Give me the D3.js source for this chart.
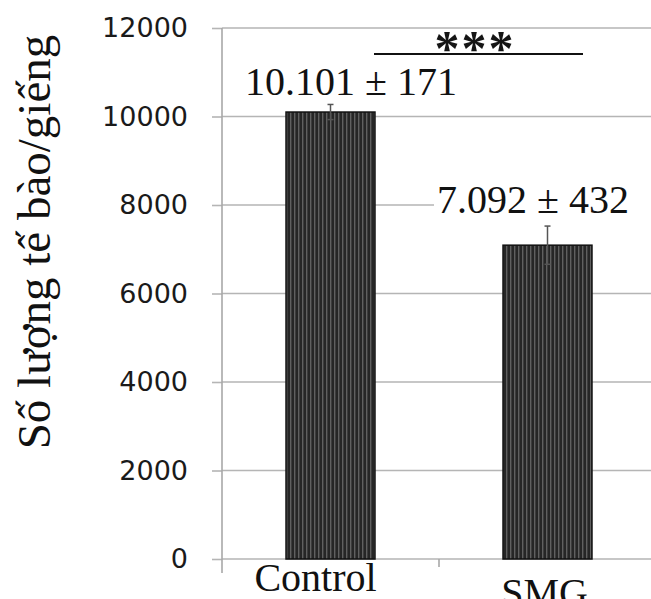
<!DOCTYPE html>
<html>
<head>
<meta charset="utf-8">
<script src="https://cdn.jsdelivr.net/npm/d3@7"></script>
<style>
  html, body { margin: 0; padding: 0; background: #fff; }
  svg { display: block; }
</style>
</head>
<body>
<svg id="chart" width="651" height="599"></svg>
<script>
// ---- data ----
const categories = ["Control", "SMG"];
const means = [10101, 7092];
const errors = [171, 432];
const valueLabels = ["10.101 ± 171", "7.092 ± 432"];
const yTicks = [0, 2000, 4000, 6000, 8000, 10000, 12000];
const yTitle = "Số lượng tế bào/giếng";
const sigLabel = "***";

const SERIF = "'Liberation Serif', 'Times New Roman', serif";
const SANS = "'DejaVu Sans', sans-serif";

const svg = d3.select("#chart");
const W = 651;

const y = d3.scaleLinear().domain([0, 12000]).range([559, 28]);
const x = d3.scaleBand().domain(categories).range([222, 656])
  .paddingInner(0.59).paddingOuter(0.295);

// pattern for bars
const defs = svg.append("defs");
const pat = defs.append("pattern").attr("id", "stripes")
  .attr("patternUnits", "userSpaceOnUse").attr("width", 4).attr("height", 4);
pat.append("rect").attr("width", 4).attr("height", 4).attr("fill", "#262626");
pat.append("rect").attr("x", 2).attr("width", 1.4).attr("height", 4).attr("fill", "#606060");

// gridlines
svg.append("g").selectAll("line").data(yTicks).join("line")
  .attr("x1", 222).attr("x2", W)
  .attr("y1", d => y(d)).attr("y2", d => y(d))
  .attr("stroke", "#b5b5b5").attr("stroke-width", 1.6);

// y axis
const yAxis = d3.axisLeft(y).tickValues(yTicks).tickSize(10).tickFormat(d3.format("d"));
const gy = svg.append("g").attr("transform", "translate(222,0)").call(yAxis);
gy.select(".domain").remove();
gy.selectAll(".tick line").attr("stroke", "#b5b5b5").attr("stroke-width", 1.6);
gy.selectAll(".tick text")
  .attr("x", -34)
  .attr("font-size", 27)
  .attr("fill", "#1a1a1a")
  .style("font-family", SANS);

// vertical axis line
svg.append("line").attr("x1", 222).attr("x2", 222)
  .attr("y1", y(12000)).attr("y2", y(0) + 14)
  .attr("stroke", "#a8a8a8").attr("stroke-width", 1.6);

// category boundary tick
const bounds = [x.range()[0] + x.step()];
svg.append("g").selectAll("line").data(bounds).join("line")
  .attr("x1", d => d).attr("x2", d => d)
  .attr("y1", y(0)).attr("y2", y(0) + 8)
  .attr("stroke", "#a8a8a8").attr("stroke-width", 1.6);

// bars
svg.append("g").selectAll("rect").data(categories).join("rect")
  .attr("x", d => x(d)).attr("width", x.bandwidth())
  .attr("y", (d, i) => y(means[i]))
  .attr("height", (d, i) => y(0) - y(means[i]))
  .attr("fill", "url(#stripes)")
  .attr("stroke", "#111").attr("stroke-width", 1.5);

// error bars
const eb = svg.append("g").selectAll("g").data(categories).join("g");
eb.append("line")
  .attr("x1", d => x(d) + x.bandwidth() / 2).attr("x2", d => x(d) + x.bandwidth() / 2)
  .attr("y1", (d, i) => y(means[i] + errors[i])).attr("y2", (d, i) => y(means[i] - errors[i]))
  .attr("stroke", "#555").attr("stroke-width", 1.5);
eb.selectAll("line.cap").data((d, i) => [[d, means[i] + errors[i]], [d, means[i] - errors[i]]])
  .join("line").attr("class", "cap")
  .attr("x1", d => x(d[0]) + x.bandwidth() / 2 - 3).attr("x2", d => x(d[0]) + x.bandwidth() / 2 + 3)
  .attr("y1", d => y(d[1])).attr("y2", d => y(d[1]))
  .attr("stroke", "#555").attr("stroke-width", 1.5);

// category labels
const catOffsets = [[-15, 591], [-3, 606]];
svg.append("g").selectAll("text").data(categories).join("text")
  .attr("x", (d, i) => x(d) + x.bandwidth() / 2 + catOffsets[i][0])
  .attr("y", (d, i) => catOffsets[i][1])
  .attr("text-anchor", "middle")
  .attr("font-size", 40)
  .attr("fill", "#111")
  .style("font-family", SERIF)
  .text(d => d);

// value labels
const vlPos = [[245, 95], [437, 213]];
const vl = svg.append("g").selectAll("g").data(valueLabels).join("g")
  .attr("transform", (d, i) => `translate(${vlPos[i][0]},${vlPos[i][1]})`);
vl.filter((d, i) => i === 1).append("rect")
  .attr("x", -3).attr("y", -30).attr("width", W - vlPos[1][0] + 3).attr("height", 40)
  .attr("fill", "#fff");
vl.append("text")
  .attr("font-size", 40)
  .attr("fill", "#111")
  .style("font-family", SERIF)
  .text(d => d);

// significance bar
svg.append("line").attr("x1", 374).attr("x2", 583).attr("y1", 54).attr("y2", 54)
  .attr("stroke", "#111").attr("stroke-width", 2);
svg.append("text").attr("x", 475).attr("y", 65)
  .attr("text-anchor", "middle")
  .attr("font-weight", "bold")
  .attr("font-size", 50)
  .attr("letter-spacing", 2)
  .attr("fill", "#151515")
  .style("font-family", SERIF)
  .text(sigLabel);

// y title
svg.append("text")
  .attr("transform", "translate(50,242) rotate(-90)")
  .attr("text-anchor", "middle")
  .attr("font-size", 47)
  .attr("fill", "#111")
  .style("font-family", SERIF)
  .text(yTitle);
</script>
</body>
</html>
